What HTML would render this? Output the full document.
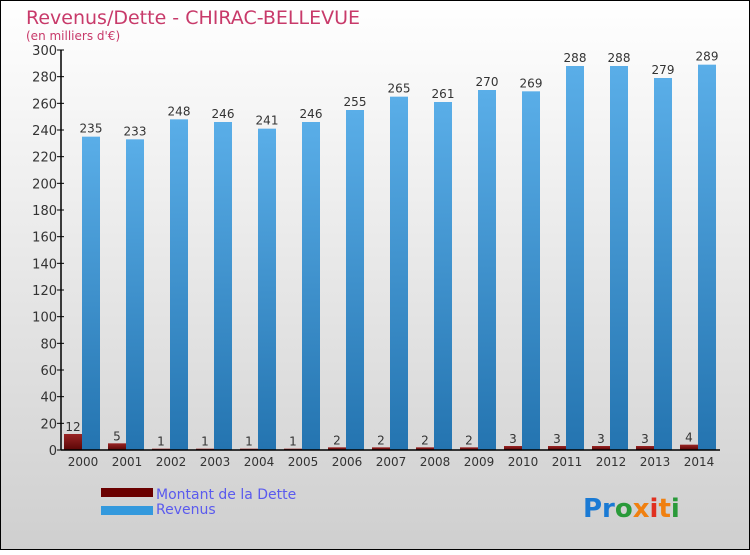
<!DOCTYPE html>
<html><head><meta charset="utf-8"><style>
body{margin:0;width:750px;height:550px;overflow:hidden}
text{font-family:"DejaVu Sans","Liberation Sans",sans-serif}
</style></head><body>
<svg id="c" width="750" height="550" xmlns="http://www.w3.org/2000/svg">
<defs>
<linearGradient id="bg" x1="0" y1="0" x2="0" y2="1"><stop offset="0" stop-color="#ffffff"/><stop offset="1" stop-color="#cfcfcf"/></linearGradient>
<linearGradient id="rev" x1="0" y1="0" x2="0" y2="1"><stop offset="0" stop-color="#5aaee8"/><stop offset="1" stop-color="#2474b0"/></linearGradient>
<linearGradient id="debt" x1="0" y1="0" x2="0" y2="1"><stop offset="0" stop-color="#9a2424"/><stop offset="1" stop-color="#5a0606"/></linearGradient>
</defs>
<rect x="0.5" y="0.5" width="749" height="549" fill="url(#bg)" stroke="#000"/>
<text x="26" y="24" font-size="19" fill="#c83a6a">Revenus/Dette - CHIRAC-BELLEVUE</text>
<text x="26" y="40" font-size="12" fill="#c83a6a">(en milliers d'€)</text>
<g id="plot"></g>
<rect x="101" y="488" width="52" height="9" fill="#6a0000"/>
<text x="156" y="499" font-size="14" fill="#5a5aee">Montant de la Dette</text>
<rect x="101" y="506" width="52" height="9" fill="#3399dd"/>
<text x="156" y="514" font-size="14" fill="#5a5aee">Revenus</text>
<text x="583" y="517" font-size="26" font-weight="bold"><tspan fill="#1a7ad4">Pr</tspan><tspan fill="#2a9a3a">o</tspan><tspan fill="#f08010">x</tspan><tspan fill="#e03020">i</tspan><tspan fill="#f08010">t</tspan><tspan fill="#2a9a3a">i</tspan></text>
</svg>
<script>
const years=["2000","2001","2002","2003","2004","2005","2006","2007","2008","2009","2010","2011","2012","2013","2014"];
const debt=[12,5,1,1,1,1,2,2,2,2,3,3,3,3,4];
const revenue=[235,233,248,246,241,246,255,265,261,270,269,288,288,279,289];
const yTicks=[0,20,40,60,80,100,120,140,160,180,200,220,240,260,280,300];
const NS="http://www.w3.org/2000/svg";
const g=document.getElementById('plot');
const y0=450,yMax=300,ph=400,x0=61;
const y=v=>y0-v/yMax*ph;
const gx=i=>64+44*i;
function el(t,a,txt){const e=document.createElementNS(NS,t);for(const k in a)e.setAttribute(k,a[k]);if(txt!==undefined)e.textContent=txt;g.appendChild(e);return e;}
yTicks.forEach(t=>{
 const l=el('line',{x1:x0-4,x2:x0+3,y1:y(t),y2:y(t),stroke:'#000'});
 
 
 const tx=el('text',{x:x0-4,y:y(t)+5,'font-size':13,fill:'#333','text-anchor':'end'},t);
 
 
});
years.forEach((yr,i)=>{
 const x=gx(i);
 const d=el('rect',{x:x,y:y(debt[i]),width:18,height:y0-y(debt[i]),fill:'url(#debt)'});
 
 
 const r=el('rect',{x:x+18,y:y(revenue[i]),width:18,height:y0-y(revenue[i]),fill:'url(#rev)'});
 
 
 const dl=el('text',{x:x+9,y:y(debt[i])-3,'font-size':12,fill:'#333','text-anchor':'middle'},debt[i]);
 
 
 const rl=el('text',{x:x+27,y:y(revenue[i])-4,'font-size':12,fill:'#333','text-anchor':'middle'},revenue[i]);
 
 
 const xl=el('text',{x:x+19,y:y0+16,'font-size':12,fill:'#333','text-anchor':'middle'},yr);
 
 
});
const ya=el('line',{x1:x0,x2:x0,y1:y(yMax),y2:y0,stroke:'#000','stroke-width':1.5});


const xa=el('line',{x1:x0,x2:720,y1:y0,y2:y0,stroke:'#000','stroke-width':1.5});


</script>
</body></html>
